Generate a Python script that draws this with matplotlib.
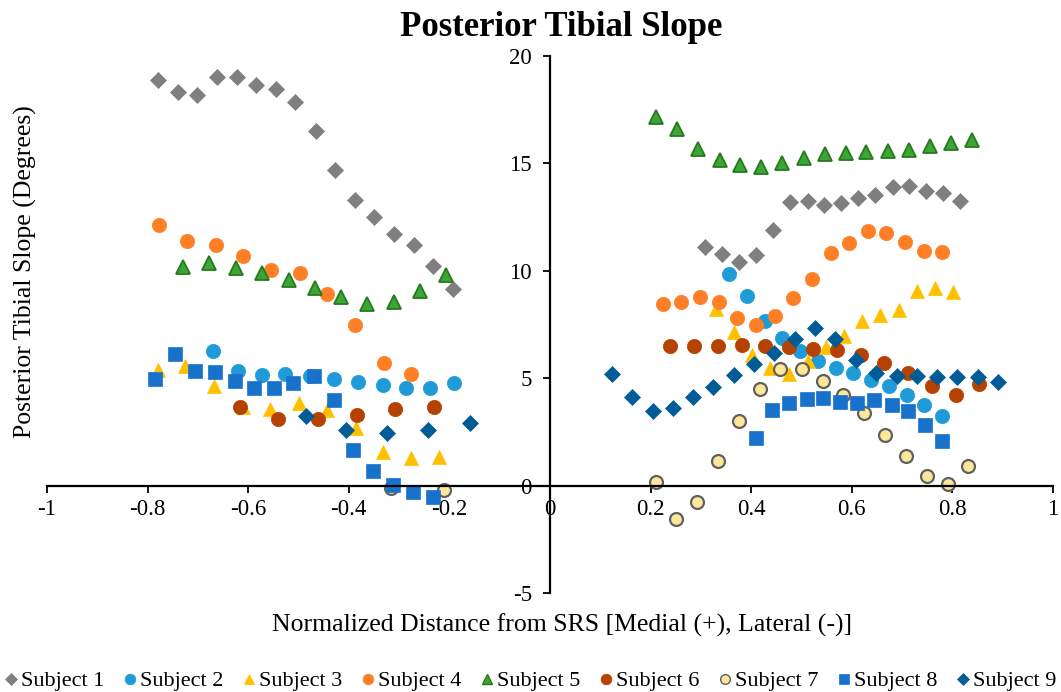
import matplotlib
matplotlib.use("Agg")
import matplotlib.pyplot as plt
from matplotlib.lines import Line2D

plt.rcParams['font.family'] = ['Liberation Serif', 'DejaVu Serif']

title = "Posterior Tibial Slope"
x_label = "Normalized Distance from SRS [Medial (+), Lateral (-)]"
y_label = "Posterior Tibial Slope (Degrees)"
labels = ["Subject 1", "Subject 2", "Subject 3", "Subject 4", "Subject 5",
          "Subject 6", "Subject 7", "Subject 8", "Subject 9"]
x_ticks = [-1, -0.8, -0.6, -0.4, -0.2, 0, 0.2, 0.4, 0.6, 0.8, 1]
y_ticks = [-5, 0, 5, 10, 15, 20]

s1_x = [-0.780, -0.740, -0.702, -0.662, -0.623, -0.584, -0.545, -0.506, -0.466, -0.427,
        -0.388, -0.349, -0.310, -0.271, -0.232, -0.193,
        0.308, 0.341, 0.375, 0.409, 0.443, 0.477, 0.512, 0.545, 0.579, 0.613,
        0.647, 0.681, 0.714, 0.748, 0.782, 0.816]
s1_y = [18.88, 18.34, 18.17, 19.04, 19.04, 18.64, 18.47, 17.85, 16.53, 14.70,
        13.30, 12.50, 11.73, 11.20, 10.23, 9.16,
        11.13, 10.78, 10.42, 10.74, 11.91, 13.21, 13.26, 13.06, 13.16, 13.38,
        13.52, 13.89, 13.94, 13.71, 13.64, 13.24]

s2_x = [-0.669, -0.621, -0.573, -0.526, -0.478, -0.429, -0.381, -0.333, -0.286, -0.238, -0.190,
        0.355, 0.391, 0.427, 0.462, 0.497, 0.533, 0.568, 0.602, 0.638, 0.673, 0.709, 0.744, 0.779]
s2_y = [6.25, 5.35, 5.16, 5.21, 5.12, 4.98, 4.84, 4.67, 4.53, 4.53, 4.76,
        9.85, 8.85, 7.67, 6.87, 6.25, 5.81, 5.47, 5.23, 4.93, 4.65, 4.23, 3.74, 3.26]

s3_x = [-0.779, -0.726, -0.668, -0.610, -0.557, -0.500, -0.443, -0.386, -0.333, -0.276, -0.221,
        0.330, 0.366, 0.402, 0.438, 0.475, 0.513, 0.548, 0.585, 0.621, 0.657, 0.693, 0.730, 0.766, 0.802]
s3_y = [5.36, 5.55, 4.62, 3.66, 3.57, 3.85, 3.50, 2.68, 1.55, 1.27, 1.32,
        8.23, 7.16, 6.09, 5.46, 5.21, 5.79, 6.45, 6.96, 7.64, 7.95, 8.16, 9.04, 9.22, 8.99]

s4_x = [-0.777, -0.721, -0.665, -0.610, -0.554, -0.498, -0.443, -0.387, -0.331, -0.276,
        0.225, 0.261, 0.299, 0.336, 0.372, 0.410, 0.447, 0.484, 0.521, 0.558, 0.595,
        0.632, 0.668, 0.706, 0.743, 0.780]
s4_y = [12.11, 11.41, 11.21, 10.70, 10.03, 9.92, 8.92, 7.50, 5.72, 5.21,
        8.45, 8.55, 8.78, 8.53, 7.80, 7.47, 7.88, 8.75, 9.64, 10.84, 11.29,
        11.85, 11.78, 11.35, 10.92, 10.87]

s5_x = [-0.729, -0.677, -0.624, -0.572, -0.519, -0.468, -0.416, -0.363, -0.311, -0.258, -0.206,
        0.211, 0.253, 0.295, 0.337, 0.378, 0.420, 0.462, 0.504, 0.546, 0.588, 0.629,
        0.671, 0.713, 0.755, 0.797, 0.838]
s5_y = [10.17, 10.36, 10.11, 9.89, 9.55, 9.18, 8.78, 8.45, 8.54, 9.04, 9.80,
        17.18, 16.59, 15.66, 15.16, 14.92, 14.82, 15.00, 15.26, 15.45, 15.47, 15.53,
        15.58, 15.64, 15.80, 15.94, 16.09]

s6_x = [-0.617, -0.540, -0.462, -0.384, -0.308, -0.231,
        0.239, 0.286, 0.334, 0.381, 0.428, 0.475, 0.522, 0.570, 0.618, 0.664,
        0.712, 0.759, 0.807, 0.853]
s6_y = [3.66, 3.12, 3.12, 3.30, 3.55, 3.67,
        6.52, 6.51, 6.51, 6.54, 6.48, 6.43, 6.37, 6.29, 6.09, 5.71,
        5.25, 4.65, 4.23, 4.74]

s7_x = [-0.317, -0.211,
        0.210, 0.251, 0.292, 0.334, 0.375, 0.417, 0.458, 0.500, 0.542, 0.583,
        0.625, 0.666, 0.707, 0.749, 0.791, 0.832]
s7_y = [-0.12, -0.21,
        0.15, -1.55, -0.78, 1.15, 2.99, 4.50, 5.45, 5.45, 4.87, 4.23,
        3.38, 2.37, 1.38, 0.43, 0.09, 0.90]

s8_x = [-0.785, -0.746, -0.706, -0.666, -0.626, -0.588, -0.549, -0.510, -0.470, -0.430,
        -0.391, -0.352, -0.312, -0.273, -0.233,
        0.409, 0.442, 0.476, 0.510, 0.543, 0.577, 0.611, 0.645, 0.679, 0.712, 0.746, 0.780]
s8_y = [4.96, 6.11, 5.32, 5.27, 4.88, 4.56, 4.56, 4.78, 5.08, 3.97,
        1.66, 0.70, 0.03, -0.31, -0.53,
        2.20, 3.52, 3.86, 4.01, 4.08, 3.91, 3.85, 3.97, 3.74, 3.47, 2.84, 2.09]

s9_x = [-0.486, -0.405, -0.324, -0.242, -0.160,
        0.124, 0.164, 0.204, 0.245, 0.285, 0.325, 0.365, 0.406, 0.446, 0.487,
        0.527, 0.567, 0.608, 0.648, 0.689, 0.729, 0.770, 0.810, 0.850, 0.890]
s9_y = [3.22, 2.60, 2.45, 2.57, 2.90,
        5.21, 4.13, 3.46, 3.63, 4.11, 4.58, 5.13, 5.66, 6.17, 6.82,
        7.35, 6.83, 5.84, 5.22, 5.08, 5.08, 5.06, 5.06, 5.06, 4.82]

series_x = [s1_x, s2_x, s3_x, s4_x, s5_x, s6_x, s7_x, s8_x, s9_x]
series_y = [s1_y, s2_y, s3_y, s4_y, s5_y, s6_y, s7_y, s8_y, s9_y]

styles = [
    dict(marker='D', ms=8.3, mfc='#7F7F7F', mec='#7F7F7F', mew=0.5),
    dict(marker='o', ms=10.3, mfc='#1F9BD8', mec='#1F9BD8', mew=0.5),
    dict(marker='^', ms=10.3, mfc='#FFC000', mec='#FFC000', mew=0.5),
    dict(marker='o', ms=10.3, mfc='#FF7F27', mec='#FF7F27', mew=0.5),
    dict(marker='^', ms=9.8, mfc='#3BA535', mec='#267A1E', mew=1.3),
    dict(marker='o', ms=10.3, mfc='#B54200', mec='#B54200', mew=0.5),
    dict(marker='o', ms=9.3, mfc='#FFE699', mec='#606060', mew=1.6),
    dict(marker='s', ms=9.8, mfc='#1872CB', mec='#1872CB', mew=0.5),
    dict(marker='D', ms=8.0, mfc='#005C97', mec='#005C97', mew=0.5),
]

fig = plt.figure(figsize=(10.61, 6.92), dpi=100)
ax = fig.add_axes([47 / 1061, 1 - 593 / 692, 1006 / 1061, 537 / 692])

handles = []
for xs, ys, st, lab in zip(series_x, series_y, styles, labels):
    ax.plot(xs, ys, linestyle='none', label=lab, **st)
    h = Line2D([], [], linestyle='none', marker=st['marker'], ms=st['ms'] * 0.75,
               mfc=st['mfc'], mec=st['mec'], mew=min(st['mew'], 1.0))
    handles.append(h)

ax.set_xlim(-1, 1)
ax.set_ylim(-5, 20)
ax.set_xticks(x_ticks)
ax.set_xticklabels([f"{t:g}" for t in x_ticks])
ax.set_yticks(y_ticks)
ax.set_yticklabels([f"{t:g}" for t in y_ticks])

for side in ('top', 'right'):
    ax.spines[side].set_visible(False)
ax.spines['left'].set_position(('data', 0))
ax.spines['bottom'].set_position(('data', 0))
for side in ('left', 'bottom'):
    ax.spines[side].set_linewidth(1.6)
    ax.spines[side].set_color('black')

ax.tick_params(axis='x', direction='out', length=5, width=1.3, pad=5, labelsize=16.5)
ax.tick_params(axis='y', direction='out', length=5, width=1.3, pad=8, labelsize=16.5)

ax.set_xlabel(x_label, fontsize=18.5)
ax.xaxis.set_label_coords(0.512, -0.061)
ax.xaxis.label.set_verticalalignment('center')
ax.set_ylabel(y_label, fontsize=18.5)
ax.yaxis.set_label_coords(-0.021, 0.598)
ax.yaxis.label.set_verticalalignment('center')

fig.text(561 / 1061, 1 - 28 / 692, title, ha='center', va='center',
         fontsize=25, fontweight='bold')

fig.legend(handles, labels, loc='center', bbox_to_anchor=(0.5, 1 - 681 / 692),
           ncol=9, frameon=False, fontsize=16, handlelength=0.6,
           handletextpad=0.15, columnspacing=0.85, borderaxespad=0,
           borderpad=0.1)

fig.savefig("out.png", dpi=100)
